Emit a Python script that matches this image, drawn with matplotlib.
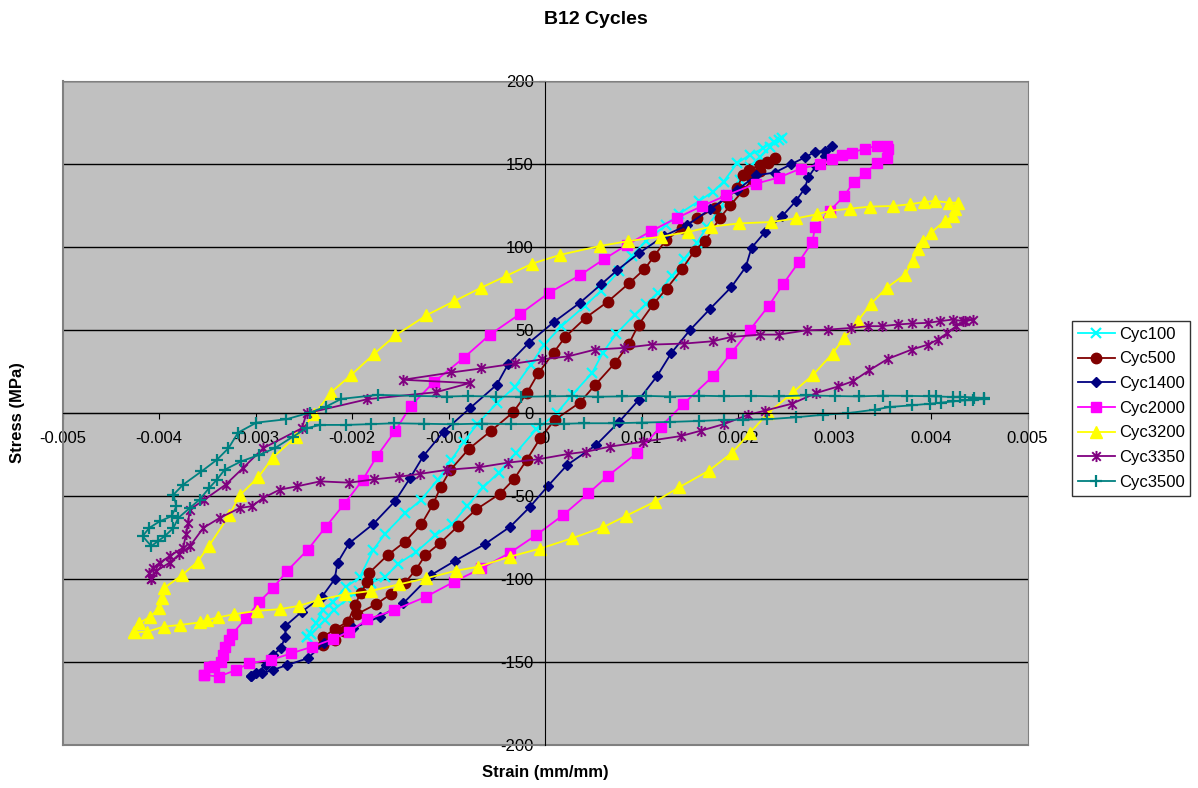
import numpy as np
import matplotlib
matplotlib.use("Agg")
import matplotlib.pyplot as plt
from matplotlib.path import Path
from matplotlib.ticker import MultipleLocator, FuncFormatter

plt.rcParams['font.family'] = ['Liberation Sans', 'DejaVu Sans']

# strain values are in 1e-3 mm/mm, stress in MPa
# each cycle: loading branch (lower/right) then unloading branch (upper/left)
cyc100_strain = [-2.47, -2.42, -2.28, -2.19, -2.05, -1.93, -1.80, -1.66, -1.52, -1.34,
                 -1.14, -0.96, -0.81, -0.64, -0.48, -0.30, -0.09, 0.12, 0.29, 0.49,
                 0.60, 0.74, 0.93, 1.05, 1.17, 1.32, 1.44, 1.57, 1.68, 1.80,
                 1.90, 2.02, 2.12, 2.23, 2.33, 2.43, 2.46,
                 2.37, 2.26, 2.12, 1.99, 1.85, 1.74, 1.60, 1.39, 1.25, 1.05,
                 0.90, 0.77, 0.58, 0.41, 0.17, -0.01, -0.15, -0.31, -0.50, -0.70,
                 -0.84, -0.97, -1.11, -1.29, -1.45, -1.66, -1.78, -1.92, -2.06, -2.20,
                 -2.30, -2.37, -2.47]
cyc100_stress = [-134.6, -133, -124.5, -118.5, -112, -106.9, -102, -98.8, -90.6, -83.8,
                 -73.6, -66.5, -56, -44.6, -35.7, -23.7, -9.6, 0, 11.6, 24.5,
                 36.6, 48, 59.5, 66, 72.7, 82.8, 92.9, 102.4, 112.4, 122,
                 131.5, 140.5, 148.6, 154.6, 160.6, 164.6, 166,
                 163.6, 159.6, 155.6, 150.6, 139.5, 133.5, 128, 120.2, 113.2, 104,
                 95, 85.8, 73.7, 64.6, 52.4, 41.3, 29.1, 16.1, 6, -6.4,
                 -17, -28.1, -40, -52.5, -60.2, -72.7, -82.3, -98.8, -104.5, -113.5,
                 -118.5, -126.1, -134.6]

cyc500_strain = [-2.30, -2.18, -2.08, -1.95, -1.75, -1.60, -1.45, -1.34, -1.24, -1.09,
                 -0.90, -0.71, -0.47, -0.32, -0.19, -0.05, 0.10, 0.36, 0.52, 0.73,
                 0.87, 0.97, 1.12, 1.26, 1.42, 1.55, 1.66, 1.81, 1.92, 2.05,
                 2.15, 2.23, 2.31, 2.38,
                 2.30, 2.23, 2.11, 2.05, 1.99, 1.88, 1.76, 1.57, 1.42, 1.25,
                 1.13, 1.03, 0.87, 0.65, 0.42, 0.21, 0.09, -0.07, -0.19, -0.33,
                 -0.56, -0.79, -0.98, -1.08, -1.16, -1.28, -1.45, -1.63, -1.82, -1.84,
                 -1.91, -1.97, -2.04, -2.18, -2.30]
cyc500_stress = [-139.6, -136.5, -131, -121, -115, -109, -102, -94.4, -85.4, -78.3,
                 -67.9, -57.8, -48.6, -39.6, -28.1, -15.1, -4, 6.4, 17.1, 30.6,
                 41.9, 53.4, 65.6, 75.1, 86.8, 98, 104, 117.5, 125.3, 134,
                 141, 146, 151, 153.6,
                 151.6, 149.6, 146.6, 143.6, 135.5, 130.5, 123.5, 117.5, 111.4, 104.2,
                 94.5, 86.8, 78.3, 67.2, 57.5, 46, 36.6, 24.1, 12, 0.6,
                 -10.6, -21.5, -34.1, -44.2, -54.8, -66.7, -77.3, -85.4, -96, -101.4,
                 -108.4, -115.5, -125.5, -130, -135]

cyc1400_strain = [-3.05, -2.93, -2.82, -2.67, -2.46, -2.29, -1.99, -1.71, -1.47, -1.18,
                  -0.93, -0.62, -0.36, -0.16, 0.03, 0.23, 0.53, 0.77, 0.97, 1.16,
                  1.31, 1.50, 1.71, 1.93, 2.08, 2.14, 2.28, 2.46, 2.60, 2.69,
                  2.73, 2.81, 2.90, 2.97,
                  2.90, 2.80, 2.69, 2.55, 2.38, 2.19, 1.99, 1.71, 1.47, 1.23,
                  0.97, 0.75, 0.58, 0.36, 0.09, -0.17, -0.38, -0.50, -0.78, -1.05,
                  -1.26, -1.40, -1.55, -1.78, -2.03, -2.15, -2.18, -2.31, -2.52, -2.69,
                  -2.69, -2.74, -2.82, -2.89, -3.00, -3.05]
cyc1400_stress = [-158.2, -156.6, -154.6, -151.6, -147.6, -138.6, -129.5, -122.5, -114.5, -97.4,
                  -88.8, -78.7, -68.3, -56.6, -43.8, -31.1, -19.1, -5, 8, 22.3,
                  36.4, 50, 62.9, 76, 88.1, 99.7, 109.2, 118.9, 127.9, 135.3,
                  142.4, 149, 154.7, 161.1,
                  158.1, 157.5, 154.1, 150, 145, 143.4, 134.5, 122.9, 113.2, 106.8,
                  96.3, 86.3, 77.6, 66.5, 54.9, 42.3, 29.8, 17.2, 3, -11,
                  -25.7, -39.2, -52.6, -66.7, -78.3, -90, -100, -110.4, -119.5, -128.1,
                  -134.5, -141.6, -145.6, -151.6, -156.6, -158.2]

cyc2000_strain = [-3.53, -3.38, -3.20, -3.07, -2.84, -2.63, -2.41, -2.20, -2.03, -1.84,
                  -1.56, -1.23, -0.94, -0.66, -0.36, -0.09, 0.19, 0.45, 0.65, 0.95,
                  1.20, 1.43, 1.74, 1.93, 2.12, 2.32, 2.47, 2.63, 2.77, 2.80,
                  2.95, 3.10, 3.20, 3.32, 3.44, 3.54, 3.55, 3.54,
                  3.44, 3.32, 3.18, 3.08, 2.97, 2.85, 2.65, 2.42, 2.19, 1.88,
                  1.63, 1.37, 1.10, 0.85, 0.61, 0.36, 0.04, -0.26, -0.57, -0.84,
                  -1.15, -1.39, -1.55, -1.74, -1.89, -2.08, -2.27, -2.46, -2.67, -2.82,
                  -2.96, -3.10, -3.24, -3.27, -3.32, -3.34, -3.36, -3.43, -3.48, -3.53]
cyc2000_stress = [-157.6, -158.6, -154.6, -150.6, -148.6, -144.6, -140.6, -136.1, -131.5, -124.1,
                  -118.5, -110.4, -101.4, -93.4, -83.9, -73.3, -61.2, -48.2, -37.8, -24.1,
                  -8, 5.4, 22.3, 36.4, 50, 64.9, 78, 91.1, 103.2, 112.4,
                  121.9, 130.9, 139.4, 144.6, 151, 153.5, 159.1, 161.1,
                  161.1, 159.5, 157.1, 155.5, 153, 150, 147.4, 142, 138.4, 131.3,
                  124.9, 117.8, 109.8, 101.5, 92.8, 83.1, 72.5, 59.8, 47.4, 33.5,
                  18.9, 4.5, -10.4, -25.7, -40.2, -54.6, -68.3, -82.3, -94.8, -105.4,
                  -113.5, -123.5, -132.9, -136.5, -140.6, -145.6, -149.6, -152.2, -152.6, -157.6]

cyc3200_strain = [-4.26, -4.12, -3.95, -3.78, -3.58, -3.50, -3.39, -3.22, -2.98, -2.75,
                  -2.55, -2.35, -2.07, -1.80, -1.51, -1.23, -0.92, -0.69, -0.36, -0.05,
                  0.28, 0.60, 0.84, 1.14, 1.39, 1.70, 1.94, 2.12, 2.31, 2.57,
                  2.78, 2.98, 3.10, 3.24, 3.38, 3.54, 3.73, 3.81, 3.87, 3.92,
                  4.00, 4.14, 4.23, 4.25, 4.28,
                  4.19, 4.04, 3.93, 3.78, 3.61, 3.37, 3.16, 2.95, 2.82, 2.60,
                  2.34, 2.01, 1.72, 1.48, 1.20, 0.86, 0.57, 0.16, -0.13, -0.40,
                  -0.66, -0.94, -1.23, -1.55, -1.77, -2.01, -2.22, -2.39, -2.58, -2.82,
                  -2.97, -3.16, -3.27, -3.48, -3.60, -3.76, -3.95, -3.97, -4.00, -4.09,
                  -4.21, -4.26]
cyc3200_stress = [-132, -131.5, -128.5, -127.5, -126, -124.5, -123, -121, -119, -118,
                  -116, -112.5, -109, -107, -103, -99.4, -94.8, -92.4, -86.3, -81.5,
                  -75.3, -68.7, -61.8, -53.2, -44.6, -34.5, -23.7, -12, 0, 12.6,
                  23.3, 36, 45.4, 55.5, 66.1, 75.6, 83.6, 91.7, 98.7, 103.8,
                  108.8, 115.8, 118.9, 122.9, 126.9,
                  126.9, 127.9, 127.3, 125.9, 124.9, 124.5, 123.3, 121.9, 119.9, 117.4,
                  115.2, 114.4, 112.4, 109.2, 106.4, 103.7, 100.8, 95.5, 90.2, 82.8,
                  75.7, 67.6, 59, 46.9, 35.8, 23, 12.5, -0.6, -14, -26.7,
                  -38.4, -49.2, -61.2, -79.7, -89.4, -97.4, -105.4, -111.4, -117.5, -122.5,
                  -126.5, -132]

cyc3350_strain = [-4.08, -4.03, -3.89, -3.79, -3.68, -3.54, -3.37, -3.16, -3.04, -2.92,
                  -2.75, -2.57, -2.33, -2.03, -1.77, -1.51, -1.30, -1.02, -0.68, -0.38,
                  -0.07, 0.24, 0.43, 0.67, 1.02, 1.41, 1.62, 1.86, 2.10, 2.28,
                  2.56, 2.81, 3.04, 3.19, 3.36, 3.55, 3.80, 3.97, 4.07, 4.17,
                  4.26, 4.35, 4.44,
                  4.33, 4.23, 4.09, 3.97, 3.80, 3.66, 3.49, 3.35, 3.17, 2.93,
                  2.71, 2.42, 2.23, 1.93, 1.74, 1.44, 1.11, 0.82, 0.52, 0.24,
                  -0.03, -0.31, -0.66, -0.97, -1.47, -0.78, -1.13, -1.84, -2.47, -2.52,
                  -2.92, -3.13, -3.31, -3.53, -3.68, -3.70, -3.72, -3.75, -3.89, -3.99,
                  -4.06, -4.10, -4.08]
cyc3350_stress = [-100, -95, -90, -85, -80, -69, -63, -57, -56, -51,
                  -46, -44, -41, -41.8, -39.8, -38.2, -36.5, -34.1, -32.5, -29.7,
                  -27.7, -24.5, -23.1, -20.1, -17.1, -13.7, -10.4, -6.4, -1, 1.6,
                  5.8, 12.2, 16.2, 19.3, 25.9, 32.7, 38.4, 41.4, 44.4, 48.4,
                  52.5, 55.5, 56.5,
                  55.5, 56.5, 55.5, 54.5, 54.1, 53.5, 52.5, 52.5, 51.4, 50.4,
                  50, 47.4, 47.4, 46, 43.4, 42, 41.4, 39.4, 38.4, 34.3,
                  32.5, 30, 27, 24.6, 20.2, 18.2, 12.7, 8.5, 0, -9,
                  -21, -33, -43, -52, -58, -66, -73, -81, -86, -90,
                  -93, -96, -100]

cyc3500_strain = [4.55, 4.45, 4.30, 4.23, 4.05, 3.98, 3.75, 3.50, 3.25, 3.00,
                  2.70, 2.42, 2.13, 1.85, 1.60, 1.30, 1.05, 0.80, 0.55, 0.28,
                  0.05, -0.25, -0.51, -0.80, -1.02, -1.35, -1.73, -2.11, -2.27, -2.44,
                  -2.68, -2.99, -3.18, -3.28, -3.40, -3.56, -3.75, -3.85, -3.82, -3.87,
                  -3.99, -4.10, -4.17,
                  -4.08, -4.01, -3.94, -3.85, -3.80, -3.68, -3.58, -3.48, -3.40, -3.32,
                  -3.15, -2.96, -2.80, -2.61, -2.47, -2.33, -2.06, -1.80, -1.56, -1.25,
                  -0.95, -0.65, -0.35, -0.05, 0.20, 0.40, 0.72, 1.00, 1.30, 1.60,
                  1.85, 2.05, 2.30, 2.60, 2.88, 3.14, 3.42, 3.57, 3.80, 3.99,
                  4.10, 4.23, 4.35, 4.44, 4.55]
cyc3500_stress = [9, 9.5, 10, 9.8, 10.2, 10.3, 10.5, 10.6, 10.2, 10.4,
                  10.8, 10.2, 10.5, 10.3, 10.6, 10.1, 10.5, 10.2, 10, 10.4,
                  10.2, 10, 10.1, 10.4, 10.1, 10.5, 11.1, 8.7, 4, 0.4,
                  -3.6, -5.6, -11.6, -21, -28, -35, -43, -49, -56, -62,
                  -65, -69, -74,
                  -80, -77, -74, -69, -63, -57, -52, -45, -40, -34,
                  -29, -25, -21, -14, -9, -7, -7, -6.5, -6, -6.3,
                  -6.6, -6.2, -6.5, -6.4, -6.3, -6, -6, -5.6, -5.2, -4.6,
                  -4, -3.8, -3.6, -2.4, -0.9, 0.1, 2.2, 3.8, 4.8, 5.8,
                  6.4, 7.2, 7.8, 8.2, 8.6]

labels = ['Cyc100', 'Cyc500', 'Cyc1400', 'Cyc2000', 'Cyc3200', 'Cyc3350', 'Cyc3500']
strains = [cyc100_strain, cyc500_strain, cyc1400_strain, cyc2000_strain,
           cyc3200_strain, cyc3350_strain, cyc3500_strain]
stresses = [cyc100_stress, cyc500_stress, cyc1400_stress, cyc2000_stress,
            cyc3200_stress, cyc3350_stress, cyc3500_stress]

# excel style asterisk: x plus a vertical bar
star = Path([(-1, -1), (1, 1), (-1, 1), (1, -1), (0, -1.3), (0, 1.3)],
            [Path.MOVETO, Path.LINETO, Path.MOVETO, Path.LINETO, Path.MOVETO, Path.LINETO])

styles = [
    dict(color='#00FFFF', marker='x', ms=7, mew=1.6),
    dict(color='#800000', marker='o', ms=7.5, mew=1),
    dict(color='#000080', marker='D', ms=5, mew=1),
    dict(color='#FF00FF', marker='s', ms=7, mew=1),
    dict(color='#FFFF00', marker='^', ms=8.5, mew=1),
    dict(color='#800080', marker=star, ms=8, mew=1.4),
    dict(color='#008080', marker='+', ms=8.5, mew=1.6),
]

fig = plt.figure(figsize=(11.98, 7.88), dpi=100)
ax = fig.add_axes([62.5/1198, 1-745.3/788, 965/1198, 664/788])
ax.set_facecolor('#C0C0C0')

for s, t, lab, st in zip(strains, stresses, labels, styles):
    ax.plot(np.array(s)*1e-3, t, label=lab, lw=1.3, **st)

ax.set_xlim(-0.005, 0.005)
ax.set_ylim(-200, 200)
ax.xaxis.set_major_locator(MultipleLocator(0.001))
ax.yaxis.set_major_locator(MultipleLocator(50))
ax.xaxis.set_major_formatter(FuncFormatter(lambda v, p: '%g' % round(v, 4)))
ax.yaxis.set_major_formatter(FuncFormatter(lambda v, p: '%d' % v))
ax.yaxis.grid(True, color='black', lw=1)
ax.set_axisbelow(True)

ax.spines['left'].set_position(('data', 0))
ax.spines['bottom'].set_position(('data', 0))
ax.spines['left'].set_color('black')
ax.spines['bottom'].set_color('black')
ax.spines['top'].set_color('#808080')
ax.spines['right'].set_color('#808080')
ax.plot([0, 0], [0, 1], transform=ax.transAxes, color='#808080', lw=1.5, clip_on=False)
ax.plot([0, 1], [0, 0], transform=ax.transAxes, color='#808080', lw=1.5, clip_on=False)

ax.tick_params(axis='x', direction='out', length=4, pad=9, labelsize=12)
ax.tick_params(axis='y', direction='out', length=4, pad=4, labelsize=12)

fig.text(0.4975, 1-19/788, 'B12 Cycles', ha='center', va='center', fontsize=14, fontweight='bold')
fig.text(18/1198, 1-413/788, 'Stress (MPa)', ha='center', va='center', rotation=90,
         fontsize=12, fontweight='bold')
fig.text(545/1198, 1-773/788, 'Strain (mm/mm)', ha='center', va='center', fontsize=12,
         fontweight='bold')

leg = ax.legend(loc='upper left', bbox_to_anchor=(1072/1198, 1-321/788),
                bbox_transform=fig.transFigure, fontsize=12, frameon=True, fancybox=False,
                borderaxespad=0, borderpad=0.35, labelspacing=0.58, handlelength=2.2,
                handletextpad=0.25)
leg.get_frame().set_edgecolor('black')
leg.get_frame().set_linewidth(1)

fig.savefig('out.png', dpi=100)
